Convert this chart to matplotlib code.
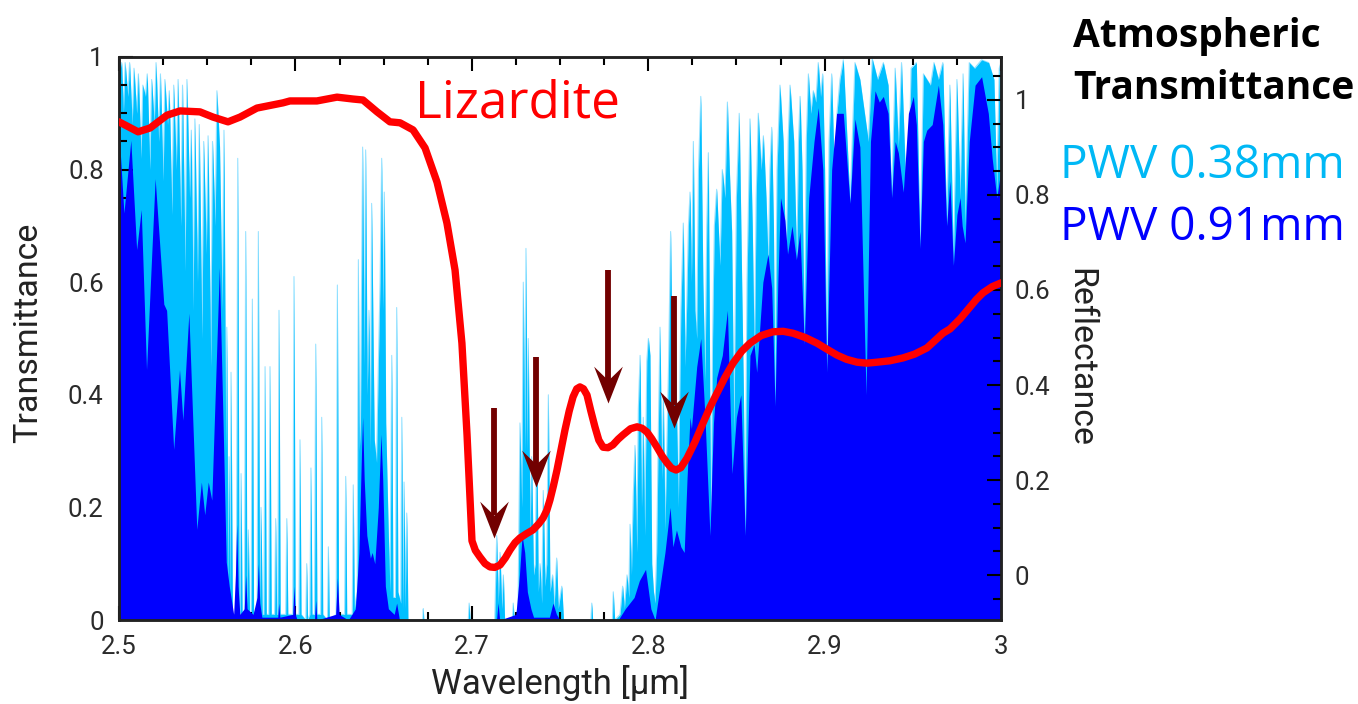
import numpy as np
import matplotlib
matplotlib.use('Agg')
import matplotlib.pyplot as plt
from matplotlib.path import Path
from matplotlib.ticker import MultipleLocator

plt.rcParams['font.family'] = ['Roboto', 'DejaVu Sans']

# atmospheric transmittance, PWV 0.38 mm (wavelength um, transmittance)
pwv038 = [
    (2.5000, 0.97), (2.5015, 0.99), (2.5025, 0.90), (2.5035, 0.99), (2.5050, 0.93),
    (2.5060, 0.99), (2.5075, 0.88), (2.5085, 0.98), (2.5100, 0.90), (2.5110, 0.97),
    (2.5125, 0.82), (2.5135, 0.95), (2.5150, 0.93), (2.5160, 0.97), (2.5175, 0.80),
    (2.5185, 0.96), (2.5200, 0.88), (2.5210, 0.99), (2.5225, 0.85), (2.5235, 0.97),
    (2.5250, 0.78), (2.5260, 0.96), (2.5275, 0.88), (2.5285, 0.94), (2.5300, 0.72),
    (2.5310, 0.95), (2.5325, 0.80), (2.5335, 0.96), (2.5350, 0.70), (2.5360, 0.95),
    (2.5375, 0.62), (2.5385, 0.96), (2.5400, 0.75), (2.5410, 0.87), (2.5420, 0.55),
    (2.5430, 0.89), (2.5445, 0.60), (2.5455, 0.88), (2.5470, 0.50), (2.5480, 0.85),
    (2.5495, 0.65), (2.5505, 0.86), (2.5520, 0.45), (2.5530, 0.85), (2.5545, 0.70),
    (2.5555, 0.94), (2.5570, 0.84), (2.5585, 0.55), (2.5595, 0.87), (2.5605, 0.30),
    (2.5611, 0.52), (2.5618, 0.05), (2.5624, 0.29), (2.5629, 0.04), (2.5635, 0.44),
    (2.5643, 0.01), (2.5665, 0.01), (2.5673, 0.82), (2.5681, 0.01), (2.5686, 0.01),
    (2.5692, 0.26), (2.5698, 0.01), (2.5711, 0.01), (2.5718, 0.69), (2.5725, 0.02),
    (2.5733, 0.16), (2.5740, 0.01), (2.5749, 0.01), (2.5756, 0.57), (2.5763, 0.01),
    (2.5783, 0.02), (2.5790, 0.69), (2.5797, 0.03), (2.5805, 0.20), (2.5812, 0.01),
    (2.5821, 0.01), (2.5828, 0.45), (2.5835, 0.01), (2.5849, 0.01), (2.5856, 0.45),
    (2.5863, 0.01), (2.5882, 0.01), (2.5888, 0.18), (2.5894, 0.01), (2.5900, 0.01),
    (2.5907, 0.55), (2.5914, 0.01), (2.5945, 0.01), (2.5951, 0.18), (2.5957, 0.01),
    (2.5985, 0.01), (2.5992, 0.61), (2.5999, 0.01), (2.6020, 0.01), (2.6026, 0.32),
    (2.6032, 0.01), (2.6059, 0.00), (2.6064, 0.10), (2.6069, 0.00), (2.6082, 0.01),
    (2.6088, 0.27), (2.6094, 0.01), (2.6108, 0.01), (2.6115, 0.49), (2.6122, 0.01),
    (2.6143, 0.01), (2.6149, 0.36), (2.6155, 0.01), (2.6182, 0.00), (2.6187, 0.13),
    (2.6192, 0.00), (2.6231, 0.01), (2.6238, 0.595), (2.6245, 0.01), (2.6279, 0.01),
    (2.6285, 0.255), (2.6291, 0.01), (2.6322, 0.01), (2.6328, 0.24), (2.6334, 0.02),
    (2.6350, 0.05), (2.6357, 0.64), (2.6362, 0.30), (2.6369, 0.35), (2.6375, 0.60),
    (2.6381, 0.84), (2.6390, 0.45), (2.6398, 0.835), (2.6407, 0.40), (2.6417, 0.55),
    (2.6425, 0.30), (2.6432, 0.74), (2.6447, 0.32), (2.6460, 0.28), (2.6470, 0.45),
    (2.6480, 0.60), (2.6489, 0.82), (2.6496, 0.55), (2.6504, 0.76), (2.6512, 0.35),
    (2.6527, 0.15), (2.6536, 0.05), (2.6546, 0.47), (2.6553, 0.04), (2.6567, 0.04),
    (2.6574, 0.555), (2.6581, 0.05), (2.6597, 0.03), (2.6603, 0.36), (2.6609, 0.02),
    (2.6616, 0.245), (2.6622, 0.02), (2.6631, 0.19), (2.6638, 0.00), (2.6722, 0.00),
    (2.6725, 0.02), (2.6728, 0.00), (2.6980, 0.00), (2.6985, 0.03), (2.6990, 0.00),
    (2.7130, 0.00), (2.7141, 0.15), (2.7150, 0.03), (2.7160, 0.12), (2.7170, 0.02),
    (2.7179, 0.08), (2.7186, 0.00), (2.7230, 0.00), (2.7235, 0.03), (2.7240, 0.00),
    (2.7262, 0.02), (2.7273, 0.35), (2.7283, 0.20), (2.7292, 0.60), (2.7300, 0.30),
    (2.7307, 0.66), (2.7313, 0.30), (2.7320, 0.50), (2.7330, 0.15), (2.7339, 0.29),
    (2.7350, 0.08), (2.7360, 0.10), (2.7368, 0.36), (2.7377, 0.05), (2.7387, 0.10),
    (2.7396, 0.03), (2.7405, 0.23), (2.7415, 0.06), (2.7425, 0.10), (2.7434, 0.40),
    (2.7443, 0.05), (2.7458, 0.08), (2.7466, 0.02), (2.7481, 0.11), (2.7490, 0.02),
    (2.7510, 0.06), (2.7520, 0.00), (2.7675, 0.00), (2.7680, 0.03), (2.7685, 0.00),
    (2.7797, 0.00), (2.7802, 0.05), (2.7810, 0.00), (2.7840, 0.01), (2.7855, 0.06),
    (2.7865, 0.02), (2.7880, 0.08), (2.7890, 0.04), (2.7897, 0.17), (2.7905, 0.08),
    (2.7915, 0.22), (2.7925, 0.31), (2.7935, 0.12), (2.7944, 0.375), (2.7954, 0.47),
    (2.7962, 0.20), (2.7972, 0.36), (2.7980, 0.15), (2.7992, 0.46), (2.8001, 0.50),
    (2.8010, 0.47), (2.8020, 0.10), (2.8030, 0.05), (2.8039, 0.03), (2.8048, 0.12),
    (2.8058, 0.35), (2.8067, 0.52), (2.8077, 0.25), (2.8086, 0.40), (2.8095, 0.16),
    (2.8105, 0.30), (2.8115, 0.45), (2.8127, 0.69), (2.8138, 0.40), (2.8152, 0.555),
    (2.8162, 0.35), (2.8171, 0.20), (2.8185, 0.55), (2.8199, 0.705), (2.8209, 0.45),
    (2.8218, 0.555), (2.8228, 0.70), (2.8237, 0.76), (2.8245, 0.60), (2.8256, 0.85),
    (2.8265, 0.55), (2.8275, 0.50), (2.8285, 0.80), (2.8298, 0.93), (2.8310, 0.60),
    (2.8322, 0.425), (2.8332, 0.70), (2.8341, 0.83), (2.8349, 0.40), (2.8356, 0.14),
    (2.8365, 0.50), (2.8375, 0.70), (2.8388, 0.765), (2.8397, 0.70), (2.8407, 0.63),
    (2.8420, 0.80), (2.8435, 0.75), (2.8449, 0.92), (2.8460, 0.80), (2.8473, 0.69),
    (2.8486, 0.33), (2.8500, 0.75), (2.8516, 0.90), (2.8530, 0.60), (2.8540, 0.40),
    (2.8549, 0.14), (2.8560, 0.60), (2.8577, 0.89), (2.8590, 0.70), (2.8602, 0.45),
    (2.8612, 0.75), (2.8624, 0.90), (2.8640, 0.80), (2.8653, 0.86), (2.8668, 0.75),
    (2.8681, 0.62), (2.8690, 0.80), (2.8700, 0.875), (2.8710, 0.70), (2.8719, 0.38),
    (2.8730, 0.80), (2.8747, 0.95), (2.8765, 0.85), (2.8781, 0.61), (2.8793, 0.85),
    (2.8804, 0.95), (2.8825, 0.85), (2.8842, 0.63), (2.8852, 0.85), (2.8861, 0.93),
    (2.8872, 0.80), (2.8885, 0.49), (2.8896, 0.85), (2.8908, 0.97), (2.8922, 0.90),
    (2.8936, 0.94), (2.8950, 0.92), (2.8964, 0.99), (2.8977, 0.93), (2.8989, 0.97),
    (2.9000, 0.80), (2.9012, 0.44), (2.9025, 0.85), (2.9040, 0.97), (2.9050, 0.85),
    (2.9059, 0.56), (2.9070, 0.90), (2.9087, 0.96), (2.9106, 0.995), (2.9144, 0.74),
    (2.9172, 0.99), (2.9200, 0.96), (2.9248, 0.85), (2.9270, 0.997), (2.9300, 0.96),
    (2.9333, 0.99), (2.9360, 0.95), (2.9380, 0.75), (2.9400, 0.98), (2.9418, 0.84),
    (2.9436, 0.99), (2.9470, 0.68), (2.9490, 0.98), (2.9520, 0.99), (2.9541, 0.66),
    (2.9560, 0.97), (2.9600, 0.95), (2.9620, 0.99), (2.9645, 0.96), (2.9670, 0.99),
    (2.9692, 0.70), (2.9710, 0.95), (2.9730, 0.63), (2.9750, 0.96), (2.9768, 0.75),
    (2.9785, 0.97), (2.9796, 0.70), (2.9820, 0.99), (2.9850, 0.98), (2.9890, 0.995),
    (2.9930, 0.99), (2.9960, 0.96), (2.9976, 0.76), (2.9990, 0.98), (3.0000, 0.99),
]

# atmospheric transmittance, PWV 0.91 mm
pwv091 = [
    (2.5000, 0.868), (2.5028, 0.723), (2.5067, 0.852), (2.5100, 0.658), (2.5126, 0.729),
    (2.5156, 0.445), (2.5205, 0.784), (2.5254, 0.561), (2.5270, 0.55), (2.5310, 0.303),
    (2.5343, 0.445), (2.5362, 0.355), (2.5396, 0.545), (2.5441, 0.161), (2.5467, 0.245),
    (2.5486, 0.187), (2.5506, 0.245), (2.5526, 0.213), (2.5569, 0.626), (2.5590, 0.35),
    (2.5608, 0.103), (2.5625, 0.06), (2.5650, 0.01), (2.5660, 0.08), (2.5667, 0.17),
    (2.5675, 0.06), (2.5685, 0.01), (2.5710, 0.02), (2.5718, 0.08), (2.5726, 0.02),
    (2.5760, 0.01), (2.5782, 0.04), (2.5790, 0.10), (2.5798, 0.03), (2.5810, 0.005),
    (2.5900, 0.005), (2.5905, 0.03), (2.5912, 0.005), (2.5985, 0.01), (2.5992, 0.06),
    (2.5999, 0.01), (2.6010, 0.0), (2.6108, 0.0), (2.6115, 0.035), (2.6122, 0.0),
    (2.6228, 0.01), (2.6238, 0.075), (2.6248, 0.01), (2.6300, 0.0), (2.6340, 0.02),
    (2.6360, 0.12), (2.6375, 0.30), (2.6381, 0.36), (2.6390, 0.25), (2.6405, 0.15),
    (2.6425, 0.11), (2.6435, 0.12), (2.6450, 0.10), (2.6470, 0.20), (2.6485, 0.33),
    (2.6495, 0.25), (2.6510, 0.06), (2.6527, 0.02), (2.6560, 0.01), (2.6574, 0.03),
    (2.6590, 0.0), (2.7140, 0.0), (2.7149, 0.03), (2.7158, 0.0), (2.7250, 0.01),
    (2.7270, 0.08), (2.7285, 0.15), (2.7300, 0.12), (2.7315, 0.05), (2.7335, 0.02),
    (2.7350, 0.005), (2.7440, 0.005), (2.7460, 0.03), (2.7480, 0.01), (2.7500, 0.0),
    (2.7830, 0.0), (2.7870, 0.02), (2.7920, 0.04), (2.7950, 0.07), (2.7985, 0.09),
    (2.8015, 0.02), (2.8039, 0.0), (2.8067, 0.06), (2.8095, 0.12), (2.8124, 0.20),
    (2.8140, 0.13), (2.8160, 0.16), (2.8185, 0.13), (2.8204, 0.12), (2.8220, 0.25),
    (2.8237, 0.36), (2.8245, 0.34), (2.8275, 0.45), (2.8298, 0.50), (2.8322, 0.36),
    (2.8350, 0.15), (2.8370, 0.35), (2.8388, 0.43), (2.8420, 0.47), (2.8449, 0.55),
    (2.8475, 0.26), (2.8500, 0.36), (2.8525, 0.40), (2.8550, 0.15), (2.8577, 0.47),
    (2.8600, 0.49), (2.8615, 0.44), (2.8650, 0.60), (2.8679, 0.65), (2.8700, 0.59),
    (2.8719, 0.38), (2.8735, 0.60), (2.8750, 0.75), (2.8775, 0.71), (2.8790, 0.65),
    (2.8815, 0.70), (2.8840, 0.64), (2.8860, 0.69), (2.8885, 0.49), (2.8910, 0.75),
    (2.8940, 0.85), (2.8964, 0.91), (2.8990, 0.80), (2.9012, 0.44), (2.9040, 0.80),
    (2.9068, 0.90), (2.9106, 0.90), (2.9144, 0.74), (2.9172, 0.89), (2.9200, 0.84),
    (2.9235, 0.40), (2.9260, 0.85), (2.9286, 0.94), (2.9310, 0.92), (2.9333, 0.93),
    (2.9360, 0.90), (2.9380, 0.75), (2.9400, 0.85), (2.9418, 0.83), (2.9446, 0.76),
    (2.9475, 0.90), (2.9503, 0.93), (2.9520, 0.88), (2.9541, 0.66), (2.9560, 0.85),
    (2.9579, 0.87), (2.9610, 0.88), (2.9645, 0.95), (2.9670, 0.88), (2.9692, 0.70),
    (2.9710, 0.78), (2.9730, 0.63), (2.9750, 0.72), (2.9768, 0.75), (2.9780, 0.70),
    (2.9796, 0.67), (2.9820, 0.85), (2.9853, 0.95), (2.9890, 0.965), (2.9928, 0.90),
    (2.9950, 0.82), (2.9976, 0.75), (3.0000, 0.80),
]

# lizardite reflectance (right axis)
lizardite = [
    (2.5000, 0.954), (2.5108, 0.933), (2.5176, 0.941), (2.5272, 0.968), (2.5346, 0.977),
    (2.5459, 0.975), (2.5533, 0.964), (2.5618, 0.954), (2.5686, 0.964), (2.5782, 0.983),
    (2.5930, 0.994), (2.5969, 0.998), (2.6122, 0.998), (2.6236, 1.006), (2.6327, 1.002),
    (2.6383, 1.000), (2.6463, 0.975), (2.6536, 0.954), (2.6593, 0.952), (2.6667, 0.937),
    (2.6735, 0.899), (2.6803, 0.827), (2.6859, 0.741), (2.6905, 0.642), (2.6944, 0.488),
    (2.6973, 0.295), (2.6990, 0.160), (2.7001, 0.072), (2.7020, 0.052), (2.7046, 0.038),
    (2.7075, 0.024), (2.7103, 0.017), (2.7130, 0.016), (2.7160, 0.021), (2.7190, 0.036),
    (2.7217, 0.053), (2.7245, 0.068), (2.7273, 0.078), (2.7310, 0.087), (2.7347, 0.095),
    (2.7380, 0.108), (2.7404, 0.120), (2.7425, 0.136), (2.7443, 0.158), (2.7463, 0.188),
    (2.7483, 0.221), (2.7505, 0.262), (2.7528, 0.305), (2.7552, 0.345), (2.7574, 0.375),
    (2.7595, 0.392), (2.7613, 0.396), (2.7633, 0.392), (2.7653, 0.379), (2.7675, 0.345),
    (2.7698, 0.312), (2.7720, 0.284), (2.7744, 0.269), (2.7772, 0.268), (2.7800, 0.274),
    (2.7830, 0.286), (2.7857, 0.295), (2.7900, 0.308), (2.7937, 0.312), (2.7965, 0.309),
    (2.7993, 0.301), (2.8020, 0.287), (2.8050, 0.269), (2.8080, 0.250), (2.8107, 0.236),
    (2.8132, 0.225), (2.8158, 0.221), (2.8185, 0.226), (2.8220, 0.246), (2.8265, 0.280),
    (2.8311, 0.320), (2.8350, 0.353), (2.8390, 0.383), (2.8435, 0.416), (2.8481, 0.446),
    (2.8530, 0.471), (2.8577, 0.488), (2.8640, 0.504), (2.8707, 0.512), (2.8765, 0.513),
    (2.8821, 0.509), (2.8890, 0.500), (2.8957, 0.488), (2.9015, 0.475), (2.9070, 0.463),
    (2.9125, 0.454), (2.9184, 0.448), (2.9240, 0.446), (2.9297, 0.448), (2.9370, 0.451),
    (2.9444, 0.457), (2.9510, 0.465), (2.9580, 0.478), (2.9630, 0.495), (2.9671, 0.509),
    (2.9711, 0.518), (2.9770, 0.540), (2.9824, 0.564), (2.9860, 0.580), (2.9898, 0.594),
    (2.9950, 0.607), (3.0000, 0.615),
]

# absorption features marked by arrows: wavelength, tail and tip (transmittance scale)
arrow_wl = [2.7126, 2.7362, 2.7772, 2.8146]
arrow_tail = [0.377, 0.467, 0.622, 0.575]
arrow_tip = [0.146, 0.236, 0.385, 0.341]

wl_038, tr_038 = map(np.array, zip(*pwv038))
wl_091, tr_091 = map(np.array, zip(*pwv091))
wl_liz, refl_liz = map(np.array, zip(*lizardite))

W, H = 1358, 704
fig = plt.figure(figsize=(W / 100, H / 100), dpi=100)
ax = fig.add_axes([119 / W, 1 - 620 / H, 882 / W, 563 / H])

# pale halo under the light-blue fill, like the anti-aliased edges in the original
ax.plot(wl_038, tr_038, color='#9BE3FF', lw=0.8, zorder=0.9)
ax.fill_between(wl_038, 0, tr_038, color='#00BFFF', lw=0, zorder=1)
ax.fill_between(wl_091, 0, tr_091, color='#0000FF', lw=0, zorder=2)

head = Path([(0, 0), (-0.39, 1), (0, 0.62), (0.39, 1), (0, 0)],
            [Path.MOVETO, Path.LINETO, Path.LINETO, Path.LINETO, Path.CLOSEPOLY])
for x, t0, t1 in zip(arrow_wl, arrow_tail, arrow_tip):
    ax.plot([x, x], [t0, t1 + 0.04], color='#720000', lw=4.2, solid_capstyle='butt', zorder=4)
    ax.plot([x], [t1], marker=head, ms=53, mew=0, color='#720000', zorder=4)

ax.set_xlim(2.5, 3.0)
ax.set_ylim(0, 1)
ax.set_xticks([2.5, 2.6, 2.7, 2.8, 2.9, 3.0])
ax.set_xticklabels(['2.5', '2.6', '2.7', '2.8', '2.9', '3'])
ax.set_yticks([0, 0.2, 0.4, 0.6, 0.8, 1.0])
ax.set_yticklabels(['0', '0.2', '0.4', '0.6', '0.8', '1'])
ax.xaxis.set_minor_locator(MultipleLocator(0.025))
ax.yaxis.set_minor_locator(MultipleLocator(0.05))
ax.tick_params(which='both', direction='in', top=True, right=False, width=1.5,
               labelsize=18.5, labelcolor='#2b2b2b')
ax.tick_params(which='major', length=10, pad=11)
ax.tick_params(which='minor', length=6)
for s in ax.spines.values():
    s.set_linewidth(1.8)
    s.set_color('#222222')

ax.set_xlabel('Wavelength [µm]', fontsize=25, color='#222222')
ax.set_ylabel('Transmittance', fontsize=24.5, color='#222222', va='center', ha='center')
ax.xaxis.set_label_coords(0.5, -0.08)
ax.yaxis.set_label_coords(-0.103, 0.51)

ax2 = ax.twinx()
ax2.plot(wl_liz, refl_liz, color='#FF0000', lw=5.3, solid_joinstyle='round',
         solid_capstyle='round', zorder=3)
ax2.set_ylim(-0.0947, 1.0905)
ax2.set_yticks([0, 0.2, 0.4, 0.6, 0.8, 1.0])
ax2.set_yticklabels(['0', '0.2', '0.4', '0.6', '0.8', '1'])
ax2.yaxis.set_minor_locator(MultipleLocator(0.05))
ax2.tick_params(which='both', direction='in', width=1.5, labelsize=18.5, labelcolor='#2b2b2b')
ax2.tick_params(which='major', length=10, pad=10)
ax2.tick_params(which='minor', length=6)
ax2.set_ylabel('Reflectance', fontsize=24.5, color='#222222', rotation=270,
               va='center', ha='center')
ax2.yaxis.set_label_coords(1.0896, 0.467)
for s in ax2.spines.values():
    s.set_linewidth(1.8)
    s.set_color('#222222')

txt = dict(family=['Open Sans', 'DejaVu Sans'])
fig.text(517 / W, 1 - 117 / H, 'Lizardite', color='#FF0000', fontsize=37,
         ha='center', va='baseline', **txt)
fig.text(1073 / W, 1 - 47 / H, 'Atmospheric', color='black', fontsize=28,
         fontweight='bold', ha='left', va='baseline', **txt)
fig.text(1073 / W, 1 - 99 / H, 'Transmittance', color='black', fontsize=28,
         fontweight='bold', ha='left', va='baseline', **txt)
fig.text(1060 / W, 1 - 178 / H, 'PWV 0.38mm', color='#00B8F5', fontsize=33,
         ha='left', va='baseline', **txt)
fig.text(1060 / W, 1 - 240 / H, 'PWV 0.91mm', color='#0000FF', fontsize=33,
         ha='left', va='baseline', **txt)

fig.savefig('out.png', dpi=100)
